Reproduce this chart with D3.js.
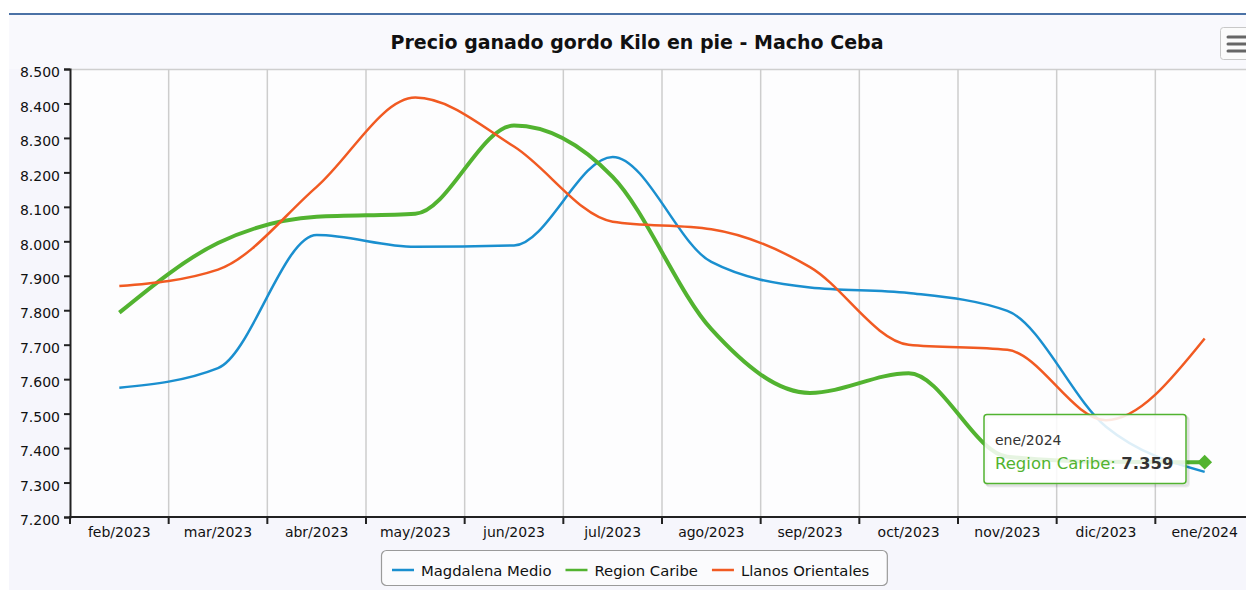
<!DOCTYPE html>
<html>
<head>
<meta charset="utf-8">
<script src="https://cdn.jsdelivr.net/npm/d3@7"></script>
<style>
  body { margin: 0; background: #fff; }
  text { font-family: "DejaVu Sans", sans-serif; }
</style>
</head>
<body>
<div id="chart"></div>
<script>
const months = ["feb/2023", "mar/2023", "abr/2023", "may/2023", "jun/2023", "jul/2023",
  "ago/2023", "sep/2023", "oct/2023", "nov/2023", "dic/2023", "ene/2024"];
const seriesNames = ["Magdalena Medio", "Region Caribe", "Llanos Orientales"];
const magdalena = [7.575, 7.632, 8.018, 7.984, 7.988, 8.245, 7.940, 7.866, 7.850, 7.798, 7.462, 7.331];
const caribe = [7.793, 7.995, 8.071, 8.080, 8.336, 8.187, 7.745, 7.560, 7.617, 7.375, 7.360, 7.359];
const llanos = [7.870, 7.918, 8.158, 8.417, 8.275, 8.057, 8.035, 7.925, 7.700, 7.685, 7.481, 7.718];
const yTicks = [7.2, 7.3, 7.4, 7.5, 7.6, 7.7, 7.8, 7.9, 8.0, 8.1, 8.2, 8.3, 8.4, 8.5];
const colors = ["#1a8fcf", "#52b330", "#f15a22"];

const W = 1246, H = 590;
const plot = { left: 70, top: 69, right: 1254, bottom: 517 };

const svg = d3.select("#chart").append("svg")
  .attr("width", W).attr("height", H);

// chart container background + top border
svg.append("rect").attr("x", 9).attr("y", 14).attr("width", W - 9).attr("height", H - 14)
  .attr("fill", "#f6f6fc");
svg.append("rect").attr("x", 9).attr("y", 14).attr("width", W - 9).attr("height", 55)
  .attr("fill", "#f9f9fd");
svg.append("line").attr("x1", 9).attr("x2", W).attr("y1", 14).attr("y2", 14)
  .attr("stroke", "#4b72a6").attr("stroke-width", 2);

// title
svg.append("text")
  .attr("x", 637).attr("y", 49)
  .attr("text-anchor", "middle")
  .style("font-size", "19px").style("font-weight", "bold").attr("fill", "#111")
  .text("Precio ganado gordo Kilo en pie - Macho Ceba");

// export menu button
const btn = svg.append("g");
btn.append("rect").attr("x", 1220.5).attr("y", 27.5).attr("width", 36).attr("height", 32).attr("rx", 3)
  .attr("fill", "#fbfbfb").attr("stroke", "#c8c8c8");
[37, 44, 51].forEach(y => {
  btn.append("line").attr("x1", 1228).attr("x2", 1256).attr("y1", y).attr("y2", y)
    .attr("stroke", "#666").attr("stroke-width", 3).attr("stroke-linecap", "round");
});

// scales
const x = d3.scaleBand().domain(months).range([plot.left, plot.right]);
const y = d3.scaleLinear().domain([7.2, 8.5]).range([plot.bottom, plot.top]);
const cx = d => x(d) + x.bandwidth() / 2;

// plot area
svg.append("rect").attr("x", plot.left).attr("y", plot.top)
  .attr("width", plot.right - plot.left).attr("height", plot.bottom - plot.top)
  .attr("fill", "#fdfdfe");
svg.append("line").attr("x1", plot.left).attr("x2", W).attr("y1", plot.top + 0.5).attr("y2", plot.top + 0.5)
  .attr("stroke", "#cfcfcf").attr("stroke-width", 1.5);

// vertical grid at category boundaries
svg.append("g").selectAll("line")
  .data(months.slice(1))
  .enter().append("line")
  .attr("x1", d => x(d)).attr("x2", d => x(d))
  .attr("y1", plot.top).attr("y2", plot.bottom)
  .attr("stroke", "#cdcdcd").attr("stroke-width", 1.5);

// y axis
const yAxis = d3.axisLeft(y).tickValues(yTicks).tickFormat(d3.format(".3f")).tickSize(6).tickPadding(4);
const gy = svg.append("g").attr("transform", `translate(${plot.left},0)`).call(yAxis);
gy.select(".domain").attr("stroke", "#222").attr("stroke-width", 2);
gy.selectAll(".tick line").attr("stroke", "#222").attr("stroke-width", 2);
gy.selectAll(".tick text").style("font-size", "14px").attr("fill", "#111").attr("dy", "0.55em");

// x axis: ticks on the boundaries, labels centred in each band
const gx = svg.append("g").attr("transform", `translate(0,${plot.bottom})`);
gx.append("line").attr("x1", plot.left - 1).attr("x2", W).attr("stroke", "#222").attr("stroke-width", 2);
gx.selectAll(".xt").data(months).enter().append("line")
  .attr("class", "xt")
  .attr("x1", d => x(d)).attr("x2", d => x(d)).attr("y1", 0).attr("y2", 7)
  .attr("stroke", "#222").attr("stroke-width", 2);
gx.selectAll(".xl").data(months).enter().append("text")
  .attr("class", "xl")
  .attr("x", cx).attr("y", 20)
  .attr("text-anchor", "middle").style("font-size", "14px").attr("fill", "#111")
  .text(d => d);

// lines
const series = [magdalena, caribe, llanos];
const line = d3.line()
  .x((d, i) => cx(months[i]))
  .y(d => y(d))
  .curve(d3.curveMonotoneX);

svg.append("g").selectAll("path")
  .data(series)
  .enter().append("path")
  .attr("d", line)
  .attr("fill", "none")
  .attr("stroke", (d, i) => colors[i])
  .attr("stroke-width", (d, i) => i === 1 ? 4 : 2.5)
  .attr("stroke-linejoin", "round");

// hovered point marker
const last = months.length - 1;
svg.append("path")
  .attr("d", d3.symbol(d3.symbolSquare, 110)())
  .attr("transform", `translate(${cx(months[last])},${y(caribe[last])}) rotate(45)`)
  .attr("fill", colors[1]);

// tooltip
const tip = svg.append("g").attr("transform", "translate(984,414.5)");
[3, 2, 1].forEach(o => {
  tip.append("rect").attr("x", o).attr("y", o).attr("width", 202).attr("height", 69).attr("rx", 3)
    .attr("fill", "none").attr("stroke", "rgba(0,0,0,0.06)").attr("stroke-width", 2);
});
tip.append("rect").attr("width", 202).attr("height", 69).attr("rx", 3)
  .attr("fill", "rgba(255,255,255,0.86)").attr("stroke", colors[1]).attr("stroke-width", 1.5);
tip.append("text").attr("x", 11).attr("y", 30)
  .style("font-size", "14px").attr("fill", "#333").text(months[last]);
const t2 = tip.append("text").attr("x", 11).attr("y", 54).style("font-size", "16.5px");
t2.append("tspan").attr("fill", colors[1]).text(seriesNames[1] + ": ");
t2.append("tspan").attr("fill", "#333").style("font-weight", "bold").text(d3.format(".3f")(caribe[last]));

// legend
const lg = svg.append("g");
const lgBox = lg.append("rect").attr("x", 381.5).attr("y", 550.5).attr("height", 35).attr("rx", 5)
  .attr("fill", "#fbfbfd").attr("stroke", "#9a9a9a").attr("stroke-width", 1.2);
let lx = 392;
seriesNames.forEach((name, i) => {
  lg.append("line").attr("x1", lx).attr("x2", lx + 22).attr("y1", 570).attr("y2", 570)
    .attr("stroke", colors[i]).attr("stroke-width", 2.5);
  const t = lg.append("text").attr("x", lx + 29).attr("y", 575.5)
    .style("font-size", "14.8px").attr("fill", "#111").text(name);
  lx += 29 + t.node().getComputedTextLength() + 14;
});
lgBox.attr("width", lx - 381.5 + 4);
</script>
</body>
</html>
